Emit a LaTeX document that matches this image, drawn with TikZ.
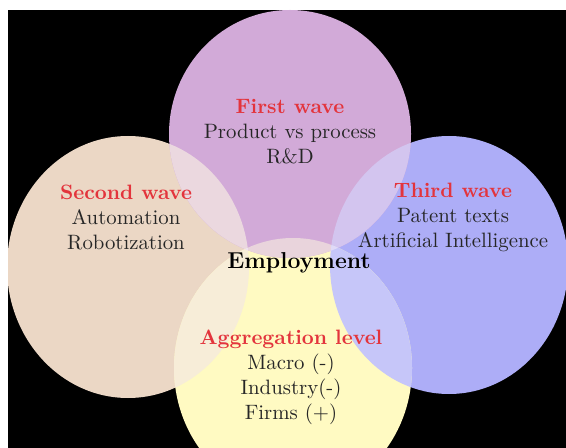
\documentclass[tikz,border=0pt]{standalone}
\usepackage{xcolor}
\usepackage{tikz}
\usetikzlibrary{positioning}

\definecolor{wavepurple}{HTML}{D2AAD8}
\definecolor{wavebeige}{HTML}{EBD7C5}
\definecolor{waveblue}{HTML}{ADADF7}
\definecolor{aggyellow}{HTML}{FFFAC2}
\definecolor{headred}{HTML}{E3343C}

\newcommand{\firstcirc}{(290,134) ellipse[x radius=121, y radius=124]}
\newcommand{\secondcirc}{(128,267) ellipse[x radius=121, y radius=131]}
\newcommand{\thirdcirc}{(449,265) ellipse[x radius=119, y radius=129]}
\newcommand{\aggcirc}{(293,368) ellipse[x radius=119, y radius=130]}
\newcommand{\wavehead}[1]{\textcolor{headred}{\textbf{#1}}}

\tikzset{wavetext/.style={align=center, text=black!85, font=\fontsize{10.4}{12.5}\selectfont}}

\begin{document}
\begin{tikzpicture}[x=0.5pt,y=-0.5pt]
    \useasboundingbox (0,0) rectangle (566,448);
    \fill[black] (8,10) rectangle (566,448);
    \clip (8,10) rectangle (566,448);
    % the four sets
    \fill[wavebeige] \secondcirc;
    \fill[waveblue] \thirdcirc;
    \fill[aggyellow] \aggcirc;
    \fill[wavepurple] \firstcirc;
    % overlaps
    \begin{scope}
        \clip \firstcirc;
        \fill[wavepurple!45!wavebeige!65!white] \secondcirc;
        \fill[wavepurple!50!waveblue!70!white] \thirdcirc;
        \fill[wavepurple!65!aggyellow!75!white] \aggcirc;
    \end{scope}
    \begin{scope}
        \clip \aggcirc;
        \fill[wavebeige!65!aggyellow!65!white] \secondcirc;
        \fill[waveblue!70!white] \thirdcirc;
        \clip \firstcirc;
        \fill[wavepurple!35!white] \secondcirc;
        \fill[wavepurple!35!waveblue!45!white] \thirdcirc;
    \end{scope}
    % labels
    \node[wavetext] (first) at (290,132) {\wavehead{First wave}\\Product vs process\\R\&D};
    \node[wavetext] (second) at (126,217) {\wavehead{Second wave}\\Automation\\Robotization};
    \node[wavetext] (third) at (453,217) {\wavehead{Third wave}\\Patent texts\\Artificial Intelligence};
    \node[wavetext, text=black, font=\fontsize{11.5}{14}\selectfont\bfseries] (employment) at (299,263) {Employment};
    \node[wavetext] (agg) at (291,377) {\wavehead{Aggregation level}\\Macro (-)\\Industry(-)\\Firms (+)};
\end{tikzpicture}
\end{document}
